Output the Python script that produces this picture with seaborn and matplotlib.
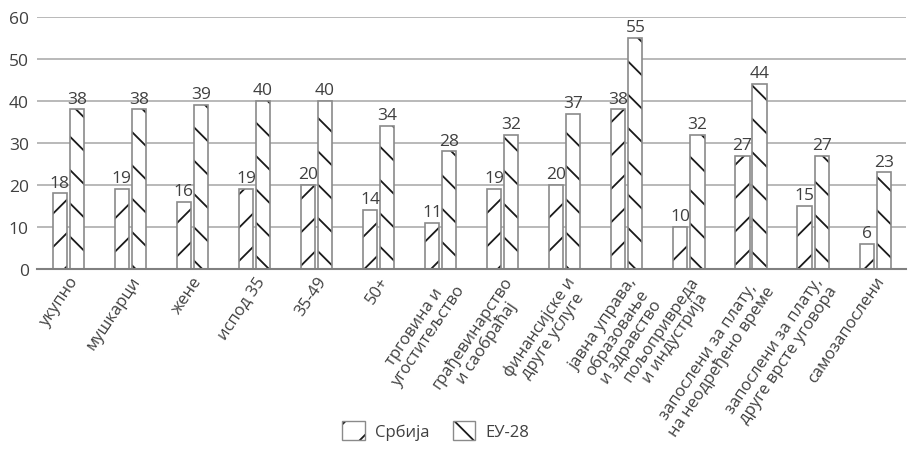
import matplotlib
matplotlib.use("Agg")
import matplotlib.pyplot as plt
import seaborn as sns
import pandas as pd
from matplotlib.patches import Patch
from matplotlib.colors import to_rgba

categories = ["укупно", "мушкарци", "жене", "испод 35", "35-49", "50+",
              "трговина и\nугоститељство", "грађевинарство\nи саобраћај",
              "финансијске и\nдруге услуге", "јавна управа,\nобразовање\nи здравство",
              "пољопривреда\nи индустрија", "запослени за плату,\nна неодређено време",
              "запослени за плату,\nдруге врсте уговора", "самозапослени"]
serbia = [18, 19, 16, 19, 20, 14, 11, 19, 20, 38, 10, 27, 15, 6]
eu28 = [38, 38, 39, 40, 40, 34, 28, 32, 37, 55, 32, 44, 27, 23]
series_names = ["Србија", "ЕУ-28"]
yticks = [0, 10, 20, 30, 40, 50, 60]

sns.set_theme(style="white")
plt.rcParams['font.family'] = ['Open Sans', 'DejaVu Sans']
plt.rcParams['hatch.linewidth'] = 1.3

df = pd.DataFrame({
    "cat": categories * 2,
    "val": serbia + eu28,
    "series": [series_names[0]] * len(categories) + [series_names[1]] * len(categories),
})

fig = plt.figure(figsize=(9.08, 4.6), dpi=100)
ax = fig.add_axes([0.041, 0.413, 0.957, 0.548])

text_c = "#404040"
edge_c = "#8a8a8a"
hatch_c = "#1a1a1a"

sns.barplot(data=df, x="cat", y="val", hue="series", order=categories,
            hue_order=series_names, palette=["white", "white"],
            width=0.55, gap=0.17, edgecolor=edge_c, linewidth=1.2,
            legend=False, ax=ax, zorder=3)

hatches = ["/", "\\"]
for cont, h in zip(ax.containers, hatches):
    for p in cont:
        p.set_hatch(h)
        p._hatch_color = to_rgba(hatch_c)
    ax.bar_label(cont, padding=2, fontsize=12.5, color=text_c)

ax.set_ylim(0, 60)
ax.set_xlim(-0.5, len(categories) - 0.5)
ax.set_yticks(yticks)
ax.yaxis.grid(True, color="#a6a6a6", linewidth=1.1, zorder=0)
ax.set_axisbelow(True)
for s in ["top", "right", "left"]:
    ax.spines[s].set_visible(False)
ax.spines["bottom"].set_color("#808080")
ax.spines["bottom"].set_linewidth(1.5)
ax.spines["bottom"].set_zorder(4)
ax.tick_params(axis="both", length=0, labelsize=12.5, colors=text_c)
ax.tick_params(axis="y", pad=6)
ax.tick_params(axis="x", pad=3)
ax.set_xlabel("")
ax.set_ylabel("")
for lab in ax.get_xticklabels():
    lab.set_rotation(56)
    lab.set_ha("right")
    lab.set_rotation_mode("anchor")
    lab.set_multialignment("center")
    lab.set_linespacing(1.05)
    lab.set_fontsize(12)

handles = [Patch(facecolor="white", edgecolor=edge_c, hatch=h, label=n)
           for h, n in zip(hatches, series_names)]
leg = fig.legend(handles=handles, loc="center", bbox_to_anchor=(0.48, 0.061),
                 ncol=2, frameon=False, fontsize=12, handlelength=1.35,
                 handleheight=1.35, columnspacing=1.4, handletextpad=0.6)
for t in leg.get_texts():
    t.set_color(text_c)
for hp in leg.legend_handles:
    hp._hatch_color = to_rgba(hatch_c)

fig.savefig("out.png", dpi=100)
